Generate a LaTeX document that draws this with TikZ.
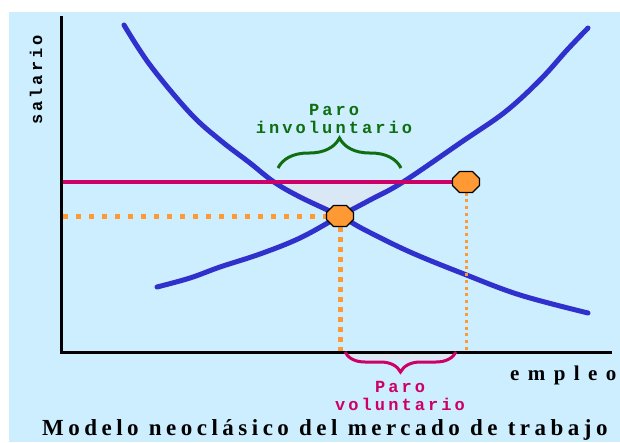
\documentclass[tikz,border=0pt]{standalone}
\usepackage{fontspec}
\setmainfont{Liberation Serif}
\newfontfamily\monof[LetterSpace=18]{Liberation Mono}
\newfontfamily\titlef[LetterSpace=19.5]{Liberation Serif}
\newfontfamily\empf[LetterSpace=40]{Liberation Serif}
\usetikzlibrary{decorations.pathreplacing}
\definecolor{bgblue}{HTML}{CCEEFF}
\definecolor{curveblue}{HTML}{3030CC}
\definecolor{crimson}{HTML}{CC0066}
\definecolor{dotorange}{HTML}{FF9933}
\definecolor{darkgreen}{HTML}{0F6E0F}
\definecolor{lightfill}{HTML}{DAE8F5}
\tikzset{
  curve/.style={curveblue, line width=5pt, line join=round, line cap=round},
  axisline/.style={black, line width=3pt},
  dotbox/.style={inner sep=0pt, minimum width=27pt, minimum height=21pt},
  octagon/.style={draw=black, line width=1.2pt, fill=dotorange, line join=round},
  bigdots/.style={dotorange, line width=5pt, dash pattern=on 5pt off 5pt},
  horizdots/.style={dotorange, line width=5pt, dash pattern=on 5pt off 8pt},
  smalldots/.style={dotorange, line width=3pt, dash pattern=on 3pt off 3.7pt},
  monolabel/.style={inner sep=0pt, anchor=base, font=\monof\bfseries\fontsize{17pt}{17pt}\selectfont},
}
\begin{document}
\begin{tikzpicture}[x=1pt, y=-1pt]
\useasboundingbox (0,0) rectangle (620,442);
\fill[white] (0,0) rectangle (620,442);
\fill[bgblue] (9,12) rectangle (620,442);
% shaded areas
\fill[lightfill] (274,182) -- (403,182) -- (340,216) -- cycle;
\fill[lightfill] (348,353) rectangle (452,361);
% coordinates
\coordinate (O) at (61,352);
\coordinate (ytop) at (61,17);
\coordinate (xend) at (610,352);
\coordinate (wl) at (63,182);
\coordinate (el) at (63,216);
% curves
\draw[curve] plot[smooth, tension=0.6] coordinates {(124,25) (150,65) (190,113) (220,140) (250,163) (274,182) (300,197) (340,216) (365,230) (410,252) (464,274) (520,295) (588,313)};
\draw[curve] plot[smooth, tension=0.6] coordinates {(157,287) (190,278) (220,267) (260,254) (300,238) (340,216) (370,200) (403,182) (463,141) (505,112) (540,80) (567,50) (588,28)};
% dot anchors
\node[dotbox] (E) at (340,216) {};
\node[dotbox] (R) at (466,182) {};
% lines
\draw[crimson, line width=4.5pt] (wl) -- (R.west);
\draw[horizdots] (el) -- (E.west);
\draw[bigdots] (E.south) -- (E |- O);
\draw[smalldots] (R.south) -- (R |- O);
% octagon dots
\draw[octagon, shift={(E.center)}] (-6.5,-10.5) -- (6.5,-10.5) -- (13.5,-3.5) -- (13.5,3.5) -- (6.5,10.5) -- (-6.5,10.5) -- (-13.5,3.5) -- (-13.5,-3.5) -- cycle;
\draw[octagon, shift={(R.center)}] (-6.5,-10.5) -- (6.5,-10.5) -- (13.5,-3.5) -- (13.5,3.5) -- (6.5,10.5) -- (-6.5,10.5) -- (-13.5,3.5) -- (-13.5,-3.5) -- cycle;
% axes
\draw[axisline, line cap=rect] (ytop) -- (O) -- (xend);
% braces
\coordinate (gb1) at (278,168);
\coordinate (gb2) at (401,168);
\draw[darkgreen, line width=3pt, decorate, decoration={brace, amplitude=30pt}] (gb1) -- (gb2);
\coordinate (mb1) at (345,352);
\coordinate (mb2) at (456,352);
\draw[crimson, line width=3pt, decorate, decoration={brace, amplitude=20pt, mirror}] (mb1) -- (mb2);
% labels
\node[monolabel, darkgreen] (pi1) at (334,115) {Paro};
\node[monolabel, darkgreen] (pi2) at (334,133) {involuntario};
\node[monolabel, crimson] (pv1) at (400,392) {Paro};
\node[monolabel, crimson] (pv2) at (400,410) {voluntario};
\node[monolabel, rotate=90] (sal) at (42,80) {salario};
\node[inner sep=0pt, anchor=base west, font=\empf\bfseries\fontsize{21pt}{21pt}\selectfont] (emp) at (510,380) {empleo};
\node[inner sep=0pt, anchor=base west, font=\titlef\bfseries\fontsize{23pt}{23pt}\selectfont] (title) at (42,435) {Modelo neoclásico del mercado de trabajo};
\end{tikzpicture}
\end{document}
